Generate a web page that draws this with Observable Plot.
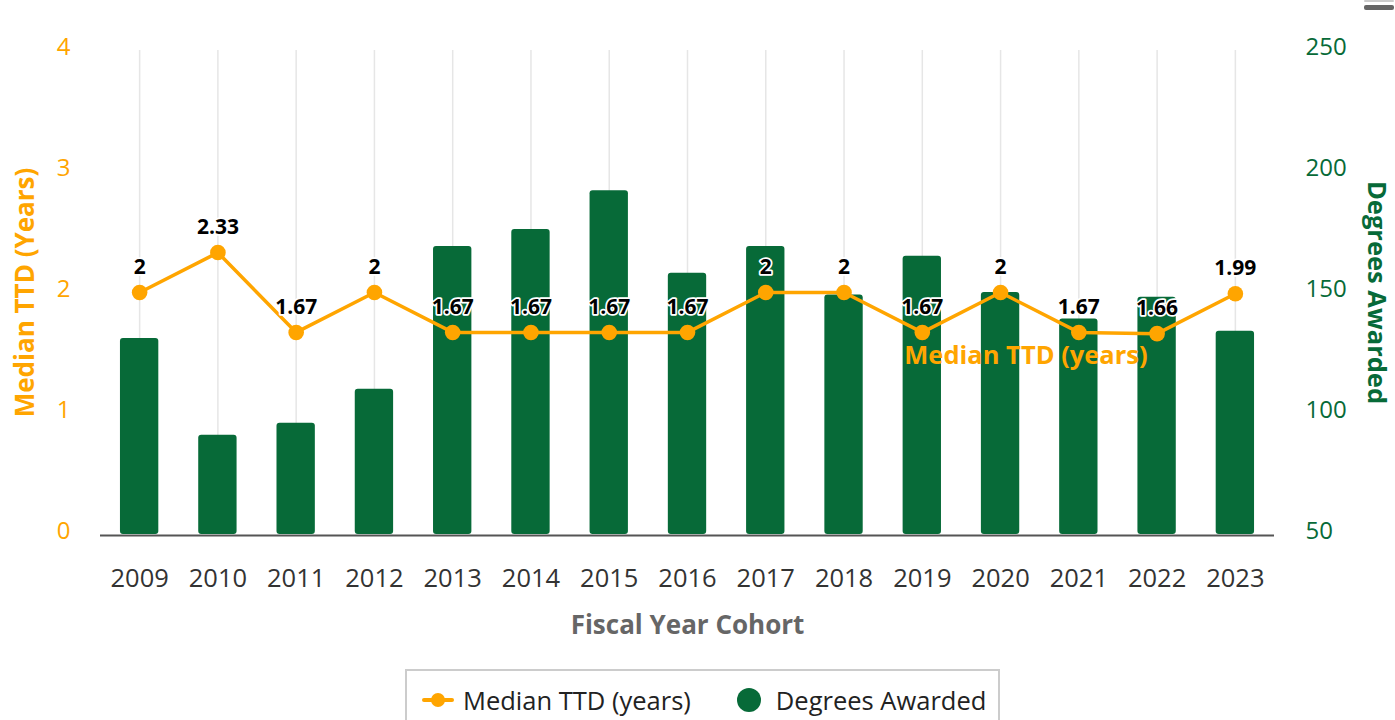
<!DOCTYPE html>
<html>
<head>
<meta charset="utf-8">
<script src="https://cdn.jsdelivr.net/npm/d3@7"></script>
<script src="https://cdn.jsdelivr.net/npm/@observablehq/plot@0.6"></script>
<style>
  html, body { margin: 0; padding: 0; background: #fff; font-family: "Open Sans", sans-serif; }
  #wrap { position: relative; width: 1395px; height: 720px; overflow: hidden; }
  #menu { position: absolute; left: 1364px; top: 0px; width: 30px; }
  #menu div { height: 5px; background: #666; border-radius: 2px; margin-bottom: 4px; }
  #legend { position: absolute; left: 405px; top: 669px; width: 595px; height: 62px; box-sizing: border-box;
            border: 2px solid #cccccc; background: #fff; display: flex; align-items: center;
            font-size: 25.5px; color: #222; padding-left: 15px; white-space: nowrap; }
  .item { display: flex; align-items: center; margin-right: 46px; height: 58px; white-space: nowrap; }
  .lmark { position: relative; width: 32px; height: 14px; margin-right: 9px; flex: none; }
  .lmark .ln { position: absolute; left: 0; top: 5px; width: 32px; height: 4px; background: #ffa500; border-radius: 2px; }
  .lmark .dt { position: absolute; left: 9px; top: 0px; width: 14px; height: 14px; border-radius: 50%; background: #ffa500; }
  .cmark { width: 24px; height: 24px; border-radius: 50%; background: #076a38; margin-right: 15px; flex: none; }
</style>
</head>
<body>
<div id="wrap">
  <div id="chart"></div>
  <div id="menu"><div style="background:#ccc;height:2px;margin-bottom:3px"></div><div></div></div>
  <div id="legend"></div>
</div>
<script>
const years = ["2009","2010","2011","2012","2013","2014","2015","2016","2017","2018","2019","2020","2021","2022","2023"];
const medianTTD = [2, 2.33, 1.67, 2, 1.67, 1.67, 1.67, 1.67, 2, 2, 1.67, 2, 1.67, 1.66, 1.99];
const degreesAwarded = [131, 91, 96, 110, 169, 176, 192, 158, 169, 149, 165, 150, 139, 148, 134];
const leftTicks = [0, 1, 2, 3, 4];
const rightTicks = [50, 100, 150, 200, 250];
const seriesNames = ["Median TTD (years)", "Degrees Awarded"];

const orange = "#ffa500";
const green = "#076a38";

// right axis (50..250) mapped onto left scale (0..4)
const rMin = 50, rMax = 250;
const toLeft = v => (v - rMin) / (rMax - rMin) * 4;

const data = years.map((y, i) => ({ year: y, ttd: medianTTD[i], deg: degreesAwarded[i] }));

const chart = Plot.plot({
  width: 1395,
  height: 655,
  marginLeft: 100,
  marginRight: 121,
  marginTop: 50,
  marginBottom: 121,
  style: { fontFamily: "Open Sans", background: "white" },
  x: { type: "band", domain: years, paddingInner: 0.51, paddingOuter: 0.255, round: false },
  y: { domain: [0, 4] },
  marks: [
    Plot.gridX(years, { stroke: "#e6e6e6", strokeOpacity: 1, strokeWidth: 1.5 }),
    Plot.barY(data, { x: "year", y1: 0, y2: d => toLeft(d.deg), fill: green, rx: 3 }),
    Plot.ruleY([0], { stroke: "#555", strokeWidth: 2, dy: 1 }),
    Plot.line(data, { x: "year", y: "ttd", stroke: orange, strokeWidth: 3.5 }),
    Plot.dot(data, { x: "year", y: "ttd", r: 7.8, fill: orange }),
    Plot.text(data, { x: "year", y: "ttd", text: d => String(d.ttd), dy: -25, fontSize: 21, fontWeight: "bold",
                      fill: "#000", stroke: "white", strokeWidth: 3.5 }),
    Plot.text([seriesNames[0]], { x: () => "2019", y: () => 1.48, text: d => d, dx: -18, textAnchor: "start",
                      fontSize: 25.5, fontWeight: "bold", fill: orange }),
    Plot.axisX({ tickSize: 0, tickPadding: 34, fontSize: 25.5, fill: "#333", label: null }),
    Plot.axisY(leftTicks, { anchor: "left", tickSize: 0, tickPadding: 30, fontSize: 24, fill: orange, dy: -3,
                      tickFormat: d => String(d), label: null }),
    Plot.axisY(rightTicks.map(toLeft), { anchor: "right", tickSize: 0, tickPadding: 31, fontSize: 24, fill: green, dy: -3,
                      tickFormat: d => String(Math.round(rMin + d / 4 * (rMax - rMin))), label: null }),
    Plot.text(["Median TTD (Years)"], { frameAnchor: "left", textAnchor: "middle", lineAnchor: "middle", rotate: -90, dx: -75,
                      fontSize: 26, fontWeight: "bold", fill: orange }),
    Plot.text(["Degrees Awarded"], { frameAnchor: "right", textAnchor: "middle", lineAnchor: "middle", rotate: 90, dx: 102,
                      fontSize: 25.5, fontWeight: "bold", fill: green }),
    Plot.text(["Fiscal Year Cohort"], { frameAnchor: "bottom", lineAnchor: "middle", dy: 91, fontSize: 26, fontWeight: "bold", fill: "#666" })
  ]
});
document.getElementById("chart").appendChild(chart);

const legend = document.getElementById("legend");
legend.innerHTML =
  `<div class="item"><div class="lmark"><div class="ln"></div><div class="dt"></div></div><span>${seriesNames[0]}</span></div>` +
  `<div class="item"><div class="cmark"></div><span>${seriesNames[1]}</span></div>`;
</script>
</body>
</html>
